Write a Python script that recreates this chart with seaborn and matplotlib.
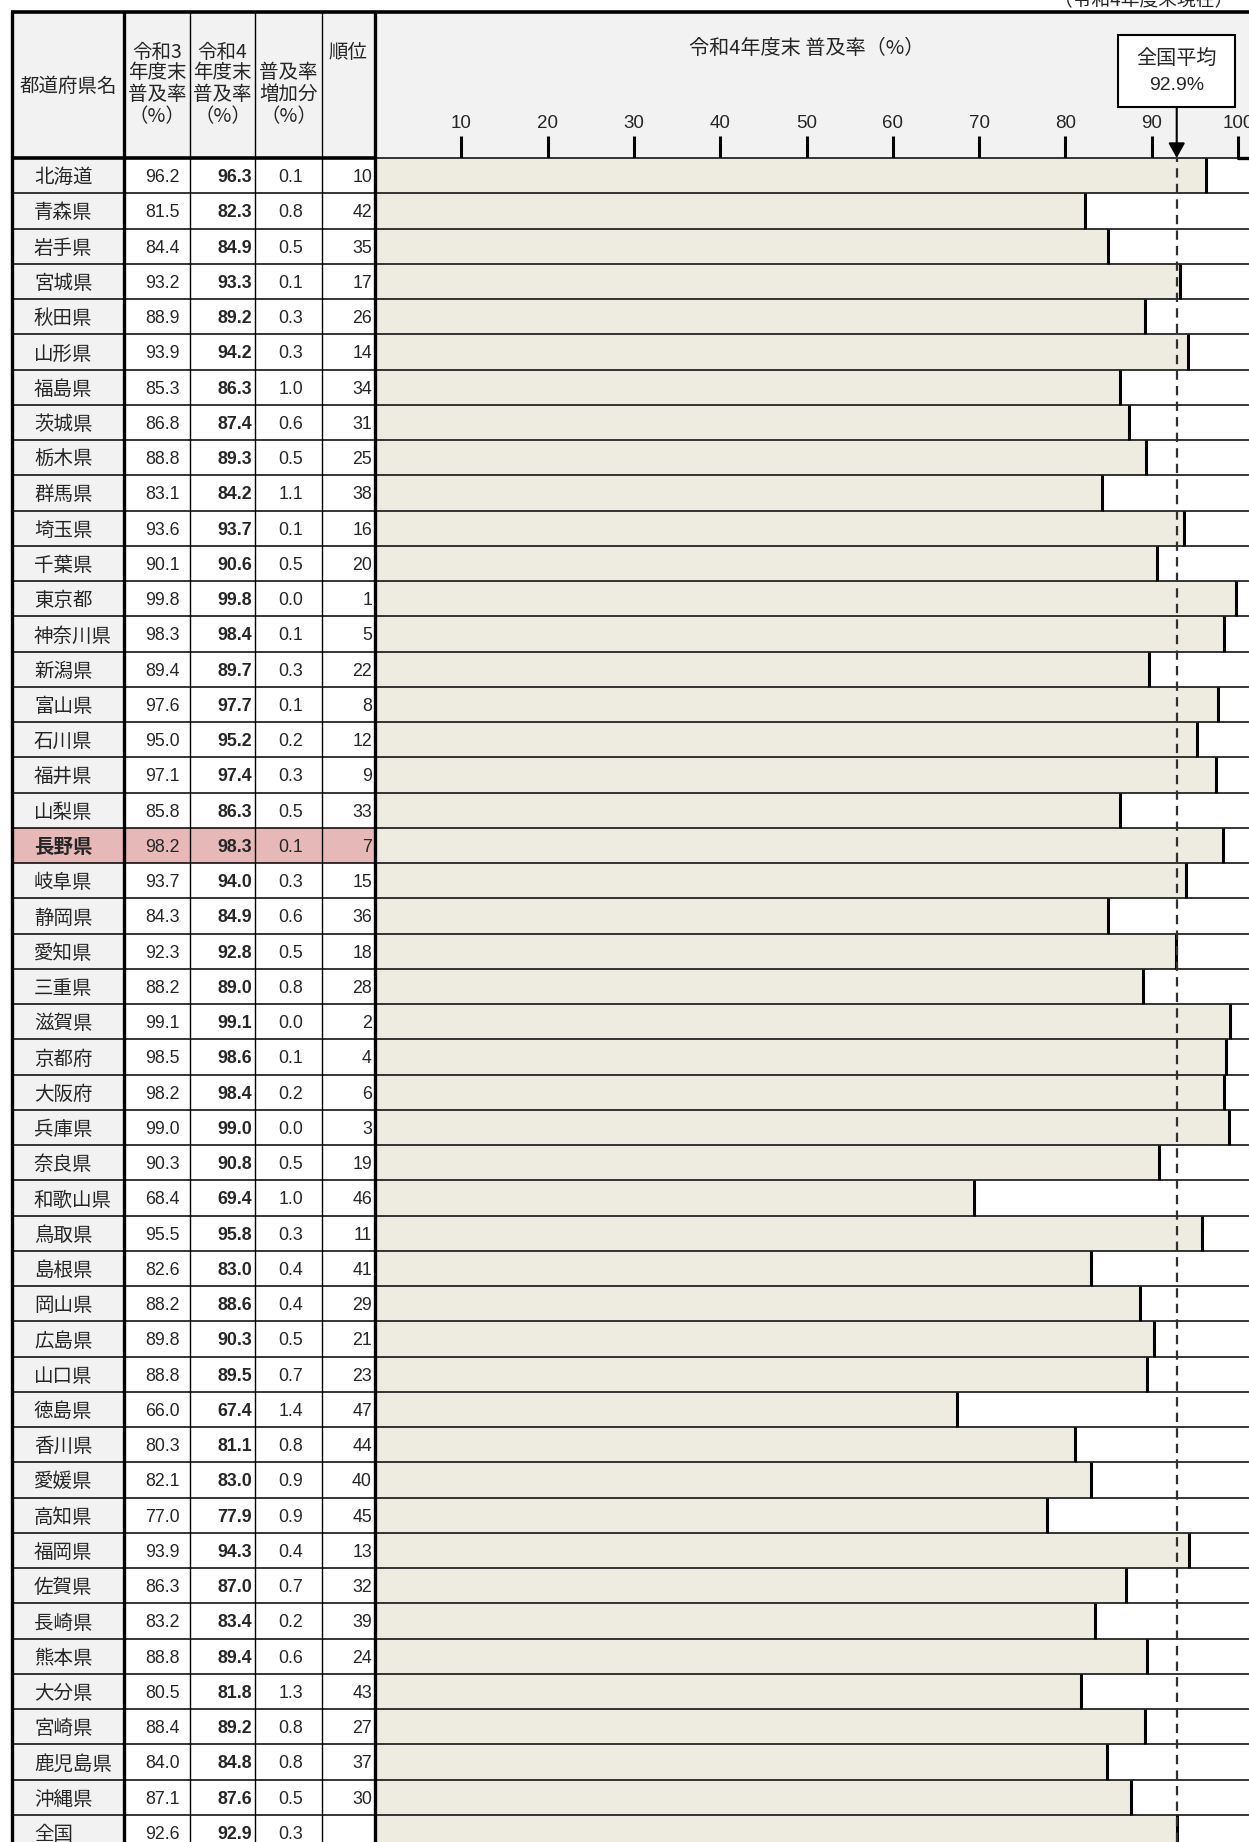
import numpy as np
import matplotlib
matplotlib.use('Agg')
import matplotlib.pyplot as plt
import seaborn as sns
from matplotlib.patches import Rectangle
from matplotlib.transforms import blended_transform_factory

# ---------------- data ----------------
prefectures = ['北海道', '青森県', '岩手県', '宮城県', '秋田県', '山形県', '福島県', '茨城県',
               '栃木県', '群馬県', '埼玉県', '千葉県', '東京都', '神奈川県', '新潟県', '富山県',
               '石川県', '福井県', '山梨県', '長野県', '岐阜県', '静岡県', '愛知県', '三重県',
               '滋賀県', '京都府', '大阪府', '兵庫県', '奈良県', '和歌山県', '鳥取県', '島根県',
               '岡山県', '広島県', '山口県', '徳島県', '香川県', '愛媛県', '高知県', '福岡県',
               '佐賀県', '長崎県', '熊本県', '大分県', '宮崎県', '鹿児島県', '沖縄県', '全国']
rate_r3 = [96.2, 81.5, 84.4, 93.2, 88.9, 93.9, 85.3, 86.8, 88.8, 83.1, 93.6, 90.1, 99.8, 98.3,
           89.4, 97.6, 95.0, 97.1, 85.8, 98.2, 93.7, 84.3, 92.3, 88.2, 99.1, 98.5, 98.2, 99.0,
           90.3, 68.4, 95.5, 82.6, 88.2, 89.8, 88.8, 66.0, 80.3, 82.1, 77.0, 93.9, 86.3, 83.2,
           88.8, 80.5, 88.4, 84.0, 87.1, 92.6]
rate_r4 = [96.3, 82.3, 84.9, 93.3, 89.2, 94.2, 86.3, 87.4, 89.3, 84.2, 93.7, 90.6, 99.8, 98.4,
           89.7, 97.7, 95.2, 97.4, 86.3, 98.3, 94.0, 84.9, 92.8, 89.0, 99.1, 98.6, 98.4, 99.0,
           90.8, 69.4, 95.8, 83.0, 88.6, 90.3, 89.5, 67.4, 81.1, 83.0, 77.9, 94.3, 87.0, 83.4,
           89.4, 81.8, 89.2, 84.8, 87.6, 92.9]
increase = [0.1, 0.8, 0.5, 0.1, 0.3, 0.3, 1.0, 0.6, 0.5, 1.1, 0.1, 0.5, 0.0, 0.1, 0.3, 0.1,
            0.2, 0.3, 0.5, 0.1, 0.3, 0.6, 0.5, 0.8, 0.0, 0.1, 0.2, 0.0, 0.5, 1.0, 0.3, 0.4,
            0.4, 0.5, 0.7, 1.4, 0.8, 0.9, 0.9, 0.4, 0.7, 0.2, 0.6, 1.3, 0.8, 0.8, 0.5, 0.3]
rank = [10, 42, 35, 17, 26, 14, 34, 31, 25, 38, 16, 20, 1, 5, 22, 8, 12, 9, 33, 7, 15, 36, 18,
        28, 2, 4, 6, 3, 19, 46, 11, 41, 29, 21, 23, 47, 44, 40, 45, 13, 32, 39, 24, 43, 27, 37,
        30, '']
national_avg = 92.9
axis_ticks = [10, 20, 30, 40, 50, 60, 70, 80, 90, 100]
highlight = '長野県'

col_headers = [['都道府県名'],
               ['令和3', '年度末', '普及率', '（%）'],
               ['令和4', '年度末', '普及率', '（%）'],
               ['普及率', '増加分', '（%）'],
               ['順位']]
chart_title = '令和4年度末 普及率（%）'
avg_label = '全国平均'
avg_value_label = '92.9%'
date_note = '（令和4年度末現在）'

# ---------------- style ----------------
sns.set_style('white')
plt.rcParams['font.family'] = ['Noto Sans CJK JP', 'DejaVu Sans']
NUM_FONT = ['Liberation Sans', 'DejaVu Sans']
NARROW_FONT = ['Liberation Sans Narrow', 'Liberation Sans', 'DejaVu Sans']

HEADER_BG = '#F2F2F2'
BAR_COLOR = '#EEECE1'
PINK = '#E6B8B7'

W, H = 1249, 1842
fig = plt.figure(figsize=(W / 100, H / 100), dpi=100)
fig.patch.set_facecolor('white')

HEAD_TOP = 12
HEAD_BOT = 158
ROW_H = 35.25
BAR_X0 = 375
PX_PER_UNIT = 8.63
n_vis = (H - HEAD_BOT) / ROW_H
ylim = (-0.5 + n_vis, -0.5)
xmax = (W - BAR_X0) / PX_PER_UNIT
TXT_DY = 0.06

COL_X = [12, 124, 190, 255, 322, 375]
COL_THICK = [True, True, False, False, False, True]

# background axes (header fill)
ax_bg = fig.add_axes([0, 0, 1, 1], zorder=-1)
ax_bg.set_xlim(0, W)
ax_bg.set_ylim(H, 0)
ax_bg.axis('off')
ax_bg.add_patch(Rectangle((COL_X[0], HEAD_TOP), W - COL_X[0], HEAD_BOT - HEAD_TOP,
                          fc=HEADER_BG, ec='none'))

# table axes
ax_tab = fig.add_axes([0, 0, BAR_X0 / W, (H - HEAD_BOT) / H], zorder=1)
ax_tab.set_xlim(0, BAR_X0)
ax_tab.set_ylim(*ylim)
ax_tab.axis('off')

# bar axes
ax_bar = fig.add_axes([BAR_X0 / W, 0, (W - BAR_X0) / W, (H - HEAD_BOT) / H], zorder=1)

# foreground overlay
ax_fg = fig.add_axes([0, 0, 1, 1], zorder=5)
ax_fg.set_xlim(0, W)
ax_fg.set_ylim(H, 0)
ax_fg.axis('off')

n = len(prefectures)
rows = np.arange(n)
hi = prefectures.index(highlight)

# ---------------- table ----------------
ax_tab.axvspan(COL_X[0], COL_X[1], color=HEADER_BG, zorder=0, lw=0)
ax_tab.axhspan(hi - 0.5, hi + 0.5, xmin=COL_X[0] / BAR_X0, xmax=1, color=PINK, zorder=0.5, lw=0)
for y in rows:
    ax_tab.axhline(y + 0.5, xmin=COL_X[0] / BAR_X0, xmax=1, color='black', lw=1.1, zorder=2)

for i, name in enumerate(prefectures):
    is_hi = name == highlight
    yy = i + TXT_DY
    ax_tab.text(34, yy, name, ha='left', va='center', fontsize=14,
                fontweight='bold' if is_hi else 'normal')
    ax_tab.text(180, yy, f'{rate_r3[i]:.1f}', ha='right', va='center', fontsize=12.8,
                family=NUM_FONT)
    ax_tab.text(252, yy, f'{rate_r4[i]:.1f}', ha='right', va='center', fontsize=12.8,
                family=NUM_FONT, fontweight='bold')
    ax_tab.text(291, yy, f'{increase[i]:.1f}', ha='center', va='center', fontsize=12.8,
                family=NUM_FONT)
    ax_tab.text(372, yy, str(rank[i]), ha='right', va='center', fontsize=12.8,
                family=NUM_FONT)

# ---------------- bars ----------------
sns.barplot(x=rate_r4, y=prefectures, orient='h', color=BAR_COLOR, saturation=1,
            width=1.0, ax=ax_bar, linewidth=0, edgecolor='none')
ax_bar.set_xlim(0, xmax)
ax_bar.set_ylim(*ylim)
ax_bar.vlines(rate_r4, rows - 0.5, rows + 0.5, color='black', lw=2.2, zorder=3)
for y in rows:
    ax_bar.axhline(y + 0.5, color='black', lw=1.1, zorder=2.5)
ax_bar.axhline(-0.5, color='black', lw=1.1, zorder=2.5, clip_on=False)
ax_bar.plot([axis_ticks[-1], xmax], [-0.5, -0.5], color='black', lw=2.4, clip_on=False, zorder=3)
ax_bar.axvline(national_avg, color='#303030', lw=1.6, ls=(0, (4.2, 2.8)), zorder=4)

ax_bar.set_xticks(axis_ticks)
ax_bar.set_xticklabels([str(t) for t in axis_ticks])
ax_bar.xaxis.tick_top()
ax_bar.tick_params(axis='x', which='major', top=True, bottom=False, labeltop=True,
                   labelbottom=False, length=16, width=2.2, color='black', pad=3,
                   labelsize=13.5, direction='out')
for lbl in ax_bar.get_xticklabels():
    lbl.set_family(NARROW_FONT)
ax_bar.set_yticks([])
ax_bar.set_xlabel('')
ax_bar.set_ylabel('')
for s in ax_bar.spines.values():
    s.set_visible(False)
ax_bar.set_facecolor('white')

# ---------------- header / frame ----------------
for x, thick in zip(COL_X, COL_THICK):
    ax_fg.plot([x, x], [HEAD_TOP, H], color='black', lw=2.4 if thick else 1.0,
               solid_capstyle='butt')
ax_fg.plot([COL_X[0] - 1, W], [HEAD_TOP, HEAD_TOP], color='black', lw=2.6, solid_capstyle='butt')
ax_fg.plot([COL_X[0], COL_X[-1]], [HEAD_BOT, HEAD_BOT], color='black', lw=2.6,
           solid_capstyle='butt')

col_centers = [(COL_X[k] + COL_X[k + 1]) / 2 for k in range(5)]
line_y = [52, 73, 95, 117]
ax_fg.text(col_centers[0], 86, col_headers[0][0], ha='center', va='center', fontsize=14)
for k in (1, 2):
    for j, t in enumerate(col_headers[k]):
        ax_fg.text(col_centers[k], line_y[j], t, ha='center', va='center', fontsize=14)
for j, t in enumerate(col_headers[3]):
    ax_fg.text(col_centers[3], line_y[j + 1], t, ha='center', va='center', fontsize=14)
ax_fg.text(col_centers[4], line_y[0], col_headers[4][0], ha='center', va='center', fontsize=14)

ax_fg.text(807, 48, chart_title, ha='center', va='center', fontsize=14.5)

# national average box + arrow
trans = blended_transform_factory(ax_bar.transData, ax_fg.transData)
box_w = 117 / PX_PER_UNIT
ax_fg.add_patch(Rectangle((national_avg - box_w / 2, 35), box_w, 72, transform=trans,
                          fc='white', ec='black', lw=1.5, zorder=6))
ax_fg.text(national_avg, 58, avg_label, transform=trans, ha='center', va='center',
           fontsize=14.5, zorder=7)
ax_fg.text(national_avg, 85, avg_value_label, transform=trans, ha='center', va='center',
           fontsize=14, family=NARROW_FONT, zorder=7)
ax_fg.annotate('', xy=(national_avg, HEAD_BOT), xycoords=trans,
               xytext=(national_avg, 107), textcoords=trans,
               arrowprops=dict(arrowstyle='-|>,head_length=0.45,head_width=0.25',
                               color='black', lw=1.5, shrinkA=0, shrinkB=0,
                               mutation_scale=20))

ax_fg.text(1233, 11, date_note, ha='right', va='bottom', fontsize=13.5)

fig.savefig('out.png', dpi=100)
